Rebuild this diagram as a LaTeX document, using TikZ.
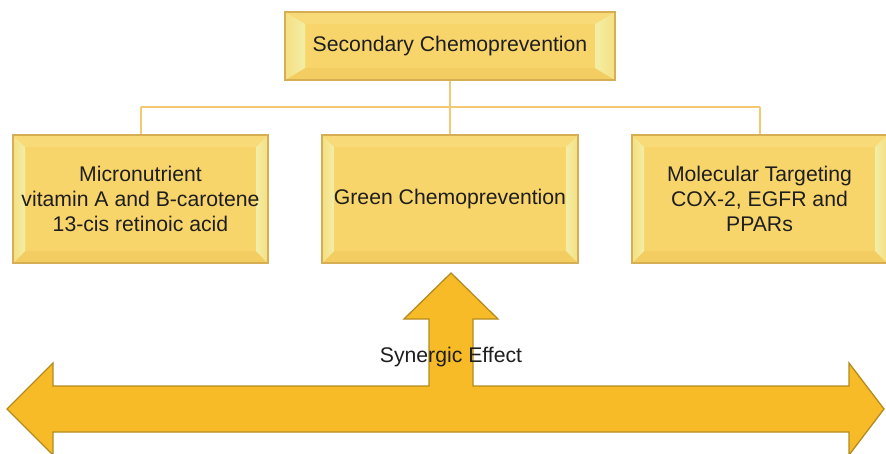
\documentclass[tikz,border=0pt]{standalone}
\usepackage{fontspec}
\setmainfont{Liberation Sans}
\usetikzlibrary{calc}
\definecolor{boxfill}{HTML}{F8D56A}
\definecolor{boxedge}{HTML}{D6AF55}
\definecolor{bevside}{HTML}{F2EEA6}
\definecolor{bevtop}{HTML}{F9DA78}
\definecolor{bevbot}{HTML}{F3CD62}
\definecolor{linkc}{HTML}{F4C971}
\definecolor{arrfill}{HTML}{F8BB28}
\definecolor{arredge}{HTML}{B48B1F}
\definecolor{txt}{HTML}{1E1E1E}
\tikzset{
  bevbox/.style n args={2}{draw=boxedge, line width=1.2pt, fill=boxfill,
    inner sep=0pt, align=center, text=txt, font=\fontsize{21.2}{25}\selectfont,
    path picture={
      \path (path picture bounding box.north west) coordinate (pNW)
            (path picture bounding box.north east) coordinate (pNE)
            (path picture bounding box.south east) coordinate (pSE)
            (path picture bounding box.south west) coordinate (pSW);
      \path ($(pNW)+(#1,-#2)$) coordinate (iNW)
            ($(pNE)+(-#1,-#2)$) coordinate (iNE)
            ($(pSE)+(-#1,#2)$) coordinate (iSE)
            ($(pSW)+(#1,#2)$) coordinate (iSW);
      \fill[bevtop] (pNW) -- (pNE) -- (iNE) -- (iNW) -- cycle;
      \fill[bevbot] (pSW) -- (pSE) -- (iSE) -- (iSW) -- cycle;
      \fill[left color=boxfill!60!bevside, right color=bevside] (pNW) -- (iNW) -- (iSW) -- (pSW) -- cycle;
      \fill[left color=bevside, right color=boxfill!60!bevside] (pNE) -- (iNE) -- (iSE) -- (pSE) -- cycle;
    }},
  linkline/.style={draw=linkc, line width=2pt},
  bigarrow/.style={fill=arrfill, draw=arredge, line width=1.3pt, line join=miter},
  labeltext/.style={text=txt, font=\fontsize{21.2}{25}\selectfont, inner sep=0pt}
}
\begin{document}
\begin{tikzpicture}[x=1pt,y=-1pt]
\useasboundingbox[fill=white] (0,0) rectangle (886,453);
% connectors
\coordinate (bus) at (450,107);
\coordinate (busL) at (140.5,107);
\coordinate (busR) at (759.5,107);
% boxes
\node[bevbox={20pt}{12pt}, minimum width=330pt, minimum height=68pt] (top) at (450,46) {Secondary Chemoprevention};
\node[bevbox={12pt}{12pt}, minimum width=255pt, minimum height=128pt] (left) at (140.5,199) {Micronutrient\\vitamin A and B-carotene\\13-cis retinoic acid};
\node[bevbox={12pt}{12pt}, minimum width=256pt, minimum height=128pt] (mid) at (450,199) {Green Chemoprevention};
\node[bevbox={12pt}{12pt}, minimum width=255pt, minimum height=128pt] (right) at (759.5,199) {Molecular Targeting\\COX-2, EGFR and\\PPARs};
\draw[linkline] (top.south) -- (bus);
\draw[linkline] (busL) -- (busR);
\draw[linkline] (busL) -- (left.north);
\draw[linkline] (bus) -- (mid.north);
\draw[linkline] (busR) -- (right.north);
% big arrow
\draw[bigarrow] (7,409) -- (53,363) -- (53,386) -- (429,386) -- (429,319) -- (404,319)
  -- (451,273) -- (498,319) -- (473,319) -- (473,386) -- (849,386) -- (849,363)
  -- (884,409) -- (849,455) -- (849,432) -- (53,432) -- (53,455) -- cycle;
\node[labeltext] (syn) at (451,357) {Synergic Effect};
\end{tikzpicture}
\end{document}
